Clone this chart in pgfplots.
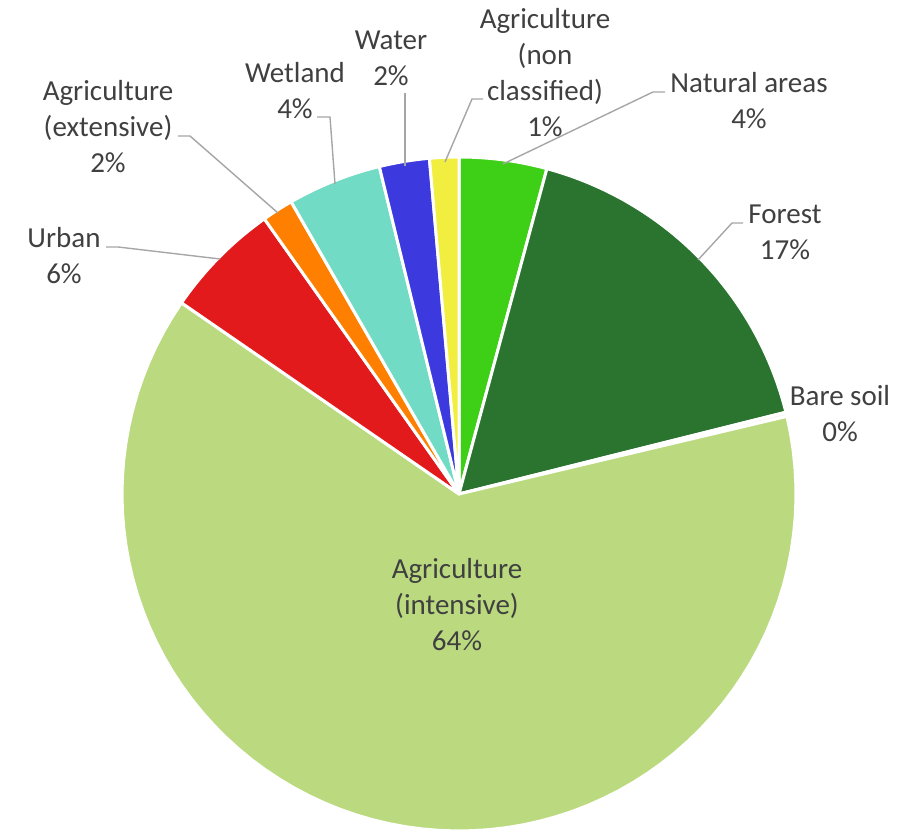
\documentclass[border=0pt]{standalone}
\usepackage{pgfplots}
\pgfplotsset{compat=1.18}
\usepackage{fontspec}
\setmainfont{Carlito}
\definecolor{cnat}{HTML}{3ECF17}
\definecolor{cfor}{HTML}{2A7430}
\definecolor{cbare}{HTML}{F4F4F4}
\definecolor{cint}{HTML}{BBDA80}
\definecolor{curb}{HTML}{E31A1C}
\definecolor{cext}{HTML}{FF7F00}
\definecolor{cwet}{HTML}{72DBC5}
\definecolor{cwat}{HTML}{3C3ADF}
\definecolor{cnon}{HTML}{F2EE3F}
\definecolor{txt}{HTML}{404040}
\definecolor{lead}{HTML}{A6A6A6}
% shares in percent, clockwise from 12 o'clock
\def\vNat{4.2}\def\vFor{16.9}\def\vBare{0.2}\def\vInt{63.3}\def\vUrb{5.6}
\def\vExt{1.5}\def\vWet{4.5}\def\vWat{2.4}\def\vNon{1.4}
\newcommand{\slice}[3]{% start pct, end pct, colour
  \addplot[fill=#3, draw=white, line width=1.5pt, line join=round, domain={3.6*(#1)}:{3.6*(#2)}, samples=80, variable=\t]
    ({459+337*sin(\t)},{339+337*cos(\t)}) -- (axis cs:459,339) -- cycle;}
\begin{document}
\begin{tikzpicture}[font=\fontsize{14.5}{18}\selectfont]
\begin{axis}[width=460pt, height=416.5pt, scale only axis,
  xmin=0, xmax=920, ymin=0, ymax=833, hide axis, clip=false]
\pgfmathsetmacro\a{0}
\pgfmathsetmacro\b{\a+\vNat}
\slice{\a}{\b}{cnat}
\pgfmathsetmacro\a{\b}\pgfmathsetmacro\b{\a+\vFor}
\slice{\a}{\b}{cfor}
\pgfmathsetmacro\a{\b}\pgfmathsetmacro\b{\a+\vBare}
\slice{\a}{\b}{cbare}
\pgfmathsetmacro\a{\b}\pgfmathsetmacro\b{\a+\vInt}
\slice{\a}{\b}{cint}
\pgfmathsetmacro\a{\b}\pgfmathsetmacro\b{\a+\vUrb}
\slice{\a}{\b}{curb}
\pgfmathsetmacro\a{\b}\pgfmathsetmacro\b{\a+\vExt}
\slice{\a}{\b}{cext}
\pgfmathsetmacro\a{\b}\pgfmathsetmacro\b{\a+\vWet}
\slice{\a}{\b}{cwet}
\pgfmathsetmacro\a{\b}\pgfmathsetmacro\b{\a+\vWat}
\slice{\a}{\b}{cwat}
\pgfmathsetmacro\a{\b}\pgfmathsetmacro\b{\a+\vNon}
\slice{\a}{\b}{cnon}
% leader lines
\addplot[lead, line width=0.7pt] coordinates {(445,671) (472,734) (483,734)};
\addplot[lead, line width=0.7pt] coordinates {(503,669) (653,741) (665,741)};
\addplot[lead, line width=0.7pt] coordinates {(698,573) (732,610) (743,610)};
\addplot[lead, line width=0.7pt] coordinates {(220,574) (118,586) (106,586)};
\addplot[lead, line width=0.7pt] coordinates {(278,620) (190,697) (178,697)};
\addplot[lead, line width=0.7pt] coordinates {(335,649) (330,716) (317,716)};
\addplot[lead, line width=0.7pt] coordinates {(405,667) (405,740)};
% labels
\begin{scope}[every node/.style={align=center, text=txt, inner sep=0pt}]
\node at (axis cs:545,760) {Agriculture\\(non\\classified)\\1\%};
\node at (axis cs:749,732) {Natural areas\\4\%};
\node at (axis cs:785,601) {Forest\\17\%};
\node at (axis cs:840,419) {Bare soil\\0\%};
\node at (axis cs:457,228) {Agriculture\\(intensive)\\64\%};
\node at (axis cs:64,577) {Urban\\6\%};
\node at (axis cs:108,706) {Agriculture\\(extensive)\\2\%};
\node at (axis cs:295,742) {Wetland\\4\%};
\node at (axis cs:391,775) {Water\\2\%};
\end{scope}
\end{axis}
\pgfresetboundingbox
\path[use as bounding box] (current axis.south west) rectangle (current axis.north east);
\end{tikzpicture}
\end{document}
